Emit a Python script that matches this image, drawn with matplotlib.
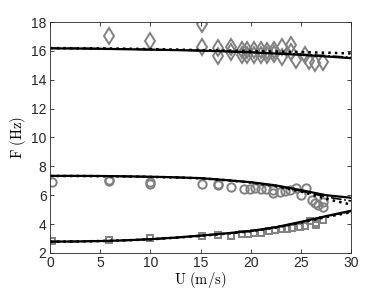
import matplotlib
matplotlib.use('Agg')
import matplotlib.pyplot as plt

plt.rcParams['font.family'] = ['Liberation Sans', 'DejaVu Sans']
plt.rcParams['mathtext.fontset'] = 'cm'

# measured points
u_diam = [5.9, 10.0, 15.1, 15.1, 16.7, 16.7, 18.0, 18.0, 19.1, 19.1, 19.6, 19.6, 20.3, 20.3,
          21.0, 21.0, 21.6, 21.6, 22.3, 22.3, 23.1, 23.1, 24.0, 24.0, 24.5, 25.4, 25.8, 26.4, 27.2]
f_diam = [17.03, 16.7, 17.9, 16.3, 16.2, 15.65, 16.3, 15.95, 16.1, 15.7, 16.1, 15.75, 16.05, 15.75,
          16.05, 15.7, 16.0, 15.7, 16.05, 15.8, 16.3, 15.6, 16.4, 15.95, 15.4, 15.7, 15.3, 15.15, 15.25]

u_circ = [0.2, 5.9, 5.9, 10.0, 10.0, 15.1, 16.7, 16.7, 18.0, 19.3, 19.9, 20.4, 21.0, 21.5, 22.2, 22.2,
          22.9, 23.4, 23.9, 24.5, 25.0, 25.5, 26.1, 26.4, 26.7, 27.2, 27.2]
f_circ = [6.94, 7.0, 7.06, 6.78, 6.88, 6.76, 6.71, 6.8, 6.6, 6.41, 6.41, 6.48, 6.43, 6.41, 6.14, 6.37,
          6.25, 6.3, 6.37, 6.48, 6.02, 6.48, 5.67, 5.44, 5.33, 5.51, 5.21]

u_sq = [0.2, 5.9, 10.0, 15.1, 16.7, 18.0, 19.1, 19.7, 20.3, 21.0, 21.8, 22.4, 23.1, 23.6, 24.1,
        24.9, 25.4, 25.9, 26.5, 26.5, 27.2]
f_sq = [2.85, 2.92, 3.03, 3.15, 3.22, 3.15, 3.31, 3.31, 3.36, 3.4, 3.5, 3.6, 3.64, 3.68, 3.73,
        3.8, 3.87, 4.2, 4.07, 3.93, 4.3]

# model curves
u_mod = [0, 2.5, 5, 7.5, 10, 12.5, 15, 17.5, 20, 22.5, 25, 27.5, 30]
top_solid = [16.18, 16.17, 16.15, 16.12, 16.09, 16.06, 16.02, 15.97, 15.9, 15.82, 15.73, 15.62, 15.5]
top_dot = [16.2, 16.19, 16.18, 16.16, 16.13, 16.1, 16.06, 16.03, 16.0, 15.96, 15.92, 15.88, 15.83]
top_dashdot = [16.19, 16.18, 16.16, 16.13, 16.1, 16.07, 16.03, 15.98, 15.92, 15.85, 15.77, 15.67, 15.56]
mid_solid = [7.34, 7.34, 7.33, 7.31, 7.28, 7.24, 7.18, 7.05, 6.9, 6.68, 6.35, 6.0, 5.82]
mid_dot = [7.33, 7.33, 7.32, 7.3, 7.27, 7.23, 7.17, 7.04, 6.88, 6.63, 6.25, 5.75, 5.35]
mid_dashdot = [7.34, 7.33, 7.32, 7.3, 7.27, 7.23, 7.17, 7.04, 6.89, 6.65, 6.3, 5.88, 5.6]
bot_solid = [2.78, 2.79, 2.82, 2.87, 2.95, 3.06, 3.2, 3.35, 3.52, 3.78, 4.15, 4.55, 4.92]
bot_dot = [2.78, 2.79, 2.82, 2.87, 2.94, 3.05, 3.18, 3.33, 3.5, 3.75, 4.1, 4.48, 4.82]
bot_dashdot = [2.78, 2.79, 2.82, 2.87, 2.95, 3.05, 3.19, 3.34, 3.51, 3.77, 4.13, 4.52, 4.88]

fig = plt.figure(figsize=(3.88, 2.91), dpi=100)
ax = fig.add_axes([0.129, 0.131, 0.776, 0.793])

gray = '#808080'
ax.plot(u_diam, f_diam, 'd', mfc='none', mec=gray, mew=1.4, ms=8)
ax.plot(u_circ, f_circ, 'o', mfc='none', mec=gray, mew=1.4, ms=6)
ax.plot(u_sq, f_sq, 's', mfc='none', mec=gray, mew=1.4, ms=5)

for s, d, dd in [(top_solid, top_dot, top_dashdot), (mid_solid, mid_dot, mid_dashdot),
                 (bot_solid, bot_dot, bot_dashdot)]:
    ax.plot(u_mod, s, '-', color='k', lw=1.6)
    ax.plot(u_mod, dd, '-.', color='k', lw=1.2)
    ax.plot(u_mod, d, ':', color='k', lw=1.8)

ax.set_xlim(0, 30)
ax.set_ylim(2, 18)
ax.set_xticks([0, 5, 10, 15, 20, 25, 30])
ax.set_yticks([2, 4, 6, 8, 10, 12, 14, 16, 18])
ax.tick_params(direction='in', top=True, right=True, labelsize=10, length=3, width=0.6,
               colors='#262626', pad=2.5)
for sp in ax.spines.values():
    sp.set_linewidth(0.6)
    sp.set_color('#262626')
ax.set_xlabel(r'$\mathrm{U\ (m/s)}$', fontsize=10.5, labelpad=0)
ax.set_ylabel(r'$\mathrm{F\ (Hz)}$', fontsize=10.5, labelpad=2)

fig.savefig('out.png', dpi=100)
